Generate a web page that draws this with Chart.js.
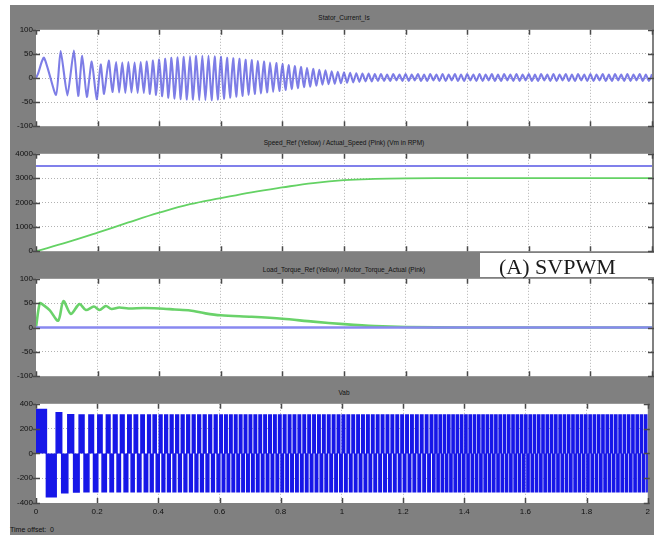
<!DOCTYPE html>
<html>
<head>
<meta charset="utf-8">
<script src="https://cdn.jsdelivr.net/npm/chart.js@4.4.1/dist/chart.umd.min.js"></script>
<style>
    html, body { margin: 0; padding: 0; background: #fff; }
    #page { position: relative; width: 654px; height: 535px; overflow: hidden; background: #fff; }
    #panel { position: absolute; left: 10px; top: 5px; right: 0; bottom: 0; background: #808080; }
    canvas { position: absolute; left: 0; }
    .title {
        position: absolute; left: 36px; width: 616px; text-align: center;
        font: 6.5px 'Liberation Sans', Arial, sans-serif; line-height: 8px; color: #111;
    }
    #tag { position: absolute; left: 480px; top: 253px; width: 174px; height: 24px; background: #fff; z-index: 5; }
    #tag span {
        position: absolute; left: 19px; top: 3px; white-space: nowrap;
        font: 22px 'Liberation Serif', 'Times New Roman', serif; line-height: 22px; color: #1a1a1a;
    }
    #offset { position: absolute; left: 10px; top: 526px; font: 7px 'Liberation Sans', Arial, sans-serif; line-height: 8px; color: #111; }
</style>
</head>
<body>
<div id="page">
    <div id="panel"></div>
    <div class="title" style="top:14px">Stator_Current_Is</div>
    <div class="title" style="top:139px">Speed_Ref (Yellow) / Actual_Speed (Pink) (Vm in RPM)</div>
    <div class="title" style="top:266px">Load_Torque_Ref (Yellow) / Motor_Torque_Actual (Pink)</div>
    <div class="title" style="top:389px">Vab</div>
    <canvas id="currentChart" width="654" height="112" style="top:22px"></canvas>
    <canvas id="speedChart" width="654" height="113" style="top:146px"></canvas>
    <canvas id="torqueChart" width="654" height="113" style="top:271px"></canvas>
    <canvas id="vabChart" width="654" height="123" style="top:396px"></canvas>
    <div id="tag"><span>(A) SVPWM</span></div>
    <div id="offset">Time offset:&nbsp;&nbsp;0</div>
</div>
<script>
// Shared time axis (s)
const TIME_TICKS = [0, 0.2, 0.4, 0.6, 0.8, 1, 1.2, 1.4, 1.6, 1.8, 2];
const TIME_LABELS = ['0', '0.2', '0.4', '0.6', '0.8', '1', '1.2', '1.4', '1.6', '1.8', '2'];

// Stator current Is (A): slow start-up swings, then a dense sampled part
const CURRENT_TICKS = [-100, -50, 0, 50, 100];
const CURRENT_EARLY_T = [0, 0.006, 0.026, 0.065, 0.080, 0.102, 0.123, 0.137, 0.150, 0.165, 0.181, 0.197, 0.210, 0.221, 0.236, 0.248];
const CURRENT_EARLY_A = [0, 8, 42, -35, 56, -36, 57, -37, 46, -39, 34, -44, 28, -33, 36, -29];
const CURRENT_DENSE_T0 = 0.26;
const CURRENT_DENSE_DT = 0.01;
const CURRENT_DENSE_A = [
    33, -30, 32, -31, 33, -30, 32, -31, 33, -31, 34, -33,
    36, -35, 38, -38, 40, -41, 42, -43, 43, -44,
    44, -45, 45, -45, 46, -46, 46, -46, 46, -46, 45, -45,
    44, -43, 42, -41, 41, -39, 40, -37, 38, -35,
    37, -33, 35, -32, 34, -30, 32, -29, 31, -27,
    29, -25, 27, -23, 25, -21, 23, -19, 21, -18,
    19, -16, 17, -14, 16, -13, 14, -12, 13, -11,
    12, -10, 11, -9, 10, -8, 9, -7, 9, -7,
    8, -6, 8, -6, 7, -6, 8, -5, 7, -6,
    8, -6, 7, -5, 8, -6, 7, -6, 8, -5,
    7, -6, 8, -6, 7, -5, 8, -6, 7, -6,
    8, -5, 7, -6, 8, -6, 7, -5, 8, -6,
    7, -6, 8, -5, 7, -6, 8, -6, 7, -5,
    8, -6, 7, -6, 8, -5, 7, -6, 8, -6,
    7, -5, 8, -6, 7, -6, 8, -5, 7, -6,
    8, -6, 7, -5, 8, -6, 7, -6, 8, -5,
    7, -6, 8, -6, 7, -5, 8, -6, 7, -6,
    8
];

// Speed (RPM)
const SPEED_TICKS = [0, 1000, 2000, 3000, 4000];
const SPEED_REF_RPM = 3500;
const SPEED_T = [0, 0.1, 0.2, 0.3, 0.4, 0.5, 0.6, 0.7, 0.8, 0.9, 1.0, 1.1, 1.2, 1.4, 1.6, 1.8, 2.0];
const SPEED_RPM = [0, 360, 760, 1180, 1580, 1930, 2180, 2420, 2620, 2800, 2920, 2970, 2990, 3000, 3000, 3000, 3000];

// Torque (N.m)
const TORQUE_TICKS = [-100, -50, 0, 50, 100];
const TORQUE_REF = 0;
const TORQUE_T = [0, 0.012, 0.02, 0.045, 0.072, 0.089, 0.113, 0.141, 0.162, 0.188, 0.206, 0.227, 0.245, 0.27, 0.3, 0.35, 0.4, 0.45, 0.5, 0.55, 0.6, 0.7, 0.8, 0.9, 1.0, 1.1, 1.2, 1.4, 2.0];
const TORQUE_NM = [0, 50, 48, 35, 14, 54, 28, 48, 36, 43, 36, 44, 38, 41, 39, 40, 39, 37, 35, 29, 25, 22, 18, 12, 7, 3, 1, 0, 0];

// Line voltage Vab (V): times where the pulse group flips sign (first one positive)
const VAB_TICKS = [-400, -200, 0, 200, 400];
const VAB_EARLY_LEVELS = [355, -350, 328, -318, 312, -312];
const VAB_POS = 310;
const VAB_NEG = -310;
const VAB_EDGES = [
    0.000, 0.034, 0.066, 0.084, 0.104, 0.123, 0.141, 0.157, 0.173, 0.188,
    0.202, 0.216, 0.230, 0.242, 0.253, 0.265, 0.276, 0.288, 0.300, 0.311,
    0.321, 0.332, 0.343, 0.354, 0.365, 0.374, 0.383, 0.393, 0.403, 0.412,
    0.421, 0.430,
    0.439, 0.448, 0.457, 0.466, 0.475, 0.484, 0.493, 0.502, 0.511, 0.520,
    0.529, 0.538, 0.547, 0.556, 0.565, 0.574, 0.583, 0.592, 0.601, 0.609,
    0.617, 0.625, 0.633, 0.641, 0.649, 0.657, 0.665, 0.673, 0.681, 0.689,
    0.697, 0.705, 0.713, 0.721, 0.729, 0.737, 0.745, 0.753, 0.761, 0.769,
    0.777, 0.785, 0.793, 0.801, 0.809, 0.817, 0.825, 0.833, 0.841, 0.849,
    0.857, 0.865, 0.873, 0.881, 0.889, 0.897, 0.905, 0.913, 0.921, 0.929,
    0.937, 0.945, 0.953, 0.961, 0.969, 0.977, 0.985, 0.993, 1.001, 1.009,
    1.017, 1.025, 1.033, 1.041, 1.049, 1.057, 1.065, 1.073, 1.081, 1.089,
    1.097, 1.105, 1.113, 1.121, 1.129, 1.137, 1.145, 1.153, 1.161, 1.169,
    1.177, 1.185, 1.193, 1.201, 1.209, 1.217, 1.225, 1.233, 1.241, 1.249,
    1.257, 1.265, 1.273, 1.281, 1.289, 1.297,
    1.304, 1.311, 1.318, 1.325, 1.332, 1.339, 1.346, 1.353, 1.360, 1.367,
    1.374, 1.381, 1.388, 1.395, 1.402, 1.409, 1.416, 1.423, 1.430, 1.437,
    1.444, 1.451, 1.458, 1.465, 1.472, 1.479, 1.486, 1.493, 1.500, 1.507,
    1.514, 1.521, 1.528, 1.535, 1.542, 1.549, 1.556, 1.563, 1.570, 1.577,
    1.584, 1.591, 1.598, 1.605, 1.612, 1.619, 1.626, 1.633, 1.640, 1.647,
    1.654, 1.661, 1.668, 1.675, 1.682, 1.689, 1.696, 1.703, 1.710, 1.717,
    1.724, 1.731, 1.738, 1.745, 1.752, 1.759, 1.766, 1.773, 1.780, 1.787,
    1.794, 1.801, 1.808, 1.815, 1.822, 1.829, 1.836, 1.843, 1.850, 1.857,
    1.864, 1.871, 1.878, 1.885, 1.892, 1.899, 1.906, 1.913, 1.920, 1.927,
    1.934, 1.941, 1.948, 1.955, 1.962, 1.969, 1.976, 1.983, 1.990, 1.997
];

const FONT = "'Liberation Sans', Arial, sans-serif";

// White plot area + small inward tick marks like the scope window
const scopeFrame = {
    id: 'scopeFrame',
    beforeDraw(chart) {
        const a = chart.chartArea;
        const ctx = chart.ctx;
        ctx.save();
        ctx.fillStyle = '#ffffff';
        ctx.fillRect(a.left, a.top, a.right - a.left, a.bottom - a.top);
        ctx.restore();
    },
    afterDraw(chart) {
        const { ctx, chartArea: a, scales: { x, y } } = chart;
        ctx.save();
        ctx.strokeStyle = '#4a4a4a';
        ctx.lineWidth = 1.5;
        ctx.beginPath();
        x.ticks.forEach(t => {
            const px = Math.round(x.getPixelForValue(t.value)) + 0.5;
            ctx.moveTo(px, a.top); ctx.lineTo(px, a.top + 5);
            ctx.moveTo(px, a.bottom); ctx.lineTo(px, a.bottom - 5);
        });
        y.ticks.forEach(t => {
            const py = Math.round(y.getPixelForValue(t.value)) + 0.5;
            ctx.moveTo(a.left - 3, py); ctx.lineTo(a.left + 4, py);
            ctx.moveTo(a.right - 4, py); ctx.lineTo(a.right + 2, py);
        });
        ctx.stroke();
        ctx.restore();
    }
};

function xy(ts, vs) {
    return ts.map((t, i) => ({ x: t, y: vs[i] }));
}

function flat(value) {
    return [{ x: TIME_TICKS[0], y: value }, { x: TIME_TICKS[TIME_TICKS.length - 1], y: value }];
}

function hideEdges(lo, hi) {
    return c => (c.tick && (c.tick.value === lo || c.tick.value === hi)) ? 'rgba(0,0,0,0)' : '#b2b2b2';
}

function makeScope(id, yTicks, datasets, withTimeAxis) {
    const yLo = yTicks[0];
    const yHi = yTicks[yTicks.length - 1];
    return new Chart(document.getElementById(id), {
        type: 'line',
        data: { datasets: datasets },
        options: {
            responsive: false,
            animation: false,
            devicePixelRatio: 1,
            events: [],
            parsing: false,
            layout: { padding: { top: 6, right: 2, bottom: withTimeAxis ? 0 : 6, left: 0 } },
            plugins: {
                legend: { display: false },
                tooltip: { enabled: false },
            },
            elements: { point: { radius: 0 } },
            scales: {
                x: {
                    type: 'linear',
                    min: TIME_TICKS[0],
                    max: TIME_TICKS[TIME_TICKS.length - 1],
                    afterBuildTicks: s => { s.ticks = TIME_TICKS.map(v => ({ value: v })); },
                    afterFit: s => { s.height = withTimeAxis ? 16 : 0; },
                    grid: { color: hideEdges(TIME_TICKS[0], TIME_TICKS[TIME_TICKS.length - 1]), lineWidth: 1, drawTicks: false },
                    border: { display: false, dash: [1, 2] },
                    ticks: {
                        display: withTimeAxis,
                        autoSkip: false,
                        maxRotation: 0,
                        padding: 4,
                        color: '#111',
                        font: { family: FONT, size: 8 },
                        callback: (v, i) => TIME_LABELS[i],
                    }
                },
                y: {
                    min: yLo,
                    max: yHi,
                    afterBuildTicks: s => { s.ticks = yTicks.map(v => ({ value: v })); },
                    afterFit: s => { s.width = 36; },
                    grid: { color: hideEdges(yLo, yHi), lineWidth: 1, drawTicks: false },
                    border: { display: false, dash: [1, 2] },
                    ticks: {
                        autoSkip: false,
                        padding: 3,
                        color: '#111',
                        font: { family: FONT, size: 8 },
                        callback: (v, i) => String(yTicks[i]),
                    }
                }
            }
        },
        plugins: [scopeFrame]
    });
}

// Build series
const currentPts = xy(CURRENT_EARLY_T, CURRENT_EARLY_A).concat(
    CURRENT_DENSE_A.map((a, i) => ({ x: +(CURRENT_DENSE_T0 + i * CURRENT_DENSE_DT).toFixed(3), y: a }))
);

const vabPts = VAB_EDGES.map((t, i) => ({
    x: t,
    y: i < VAB_EARLY_LEVELS.length ? VAB_EARLY_LEVELS[i] : (i % 2 ? VAB_NEG : VAB_POS)
}));
vabPts.push({ x: TIME_TICKS[TIME_TICKS.length - 1], y: 0 });

makeScope('currentChart', CURRENT_TICKS, [{
    data: currentPts,
    borderColor: 'rgba(75, 75, 220, 0.72)',
    borderWidth: 2.1,
    tension: 0.2,
}], false);

makeScope('speedChart', SPEED_TICKS, [{
    data: flat(SPEED_REF_RPM),
    borderColor: 'rgb(128, 128, 235)',
    borderWidth: 1.8,
}, {
    data: xy(SPEED_T, SPEED_RPM),
    borderColor: 'rgb(100, 210, 100)',
    borderWidth: 1.8,
    tension: 0.4,
}], false);

makeScope('torqueChart', TORQUE_TICKS, [{
    data: flat(TORQUE_REF),
    borderColor: 'rgb(136, 136, 240)',
    borderWidth: 2.4,
}, {
    data: xy(TORQUE_T, TORQUE_NM),
    borderColor: 'rgba(90, 205, 90, 0.9)',
    borderWidth: 2.6,
    tension: 0.3,
}], false);

makeScope('vabChart', VAB_TICKS, [{
    data: vabPts,
    borderColor: '#1717e8',
    backgroundColor: '#1717e8',
    borderWidth: 1.5,
    stepped: true,
    fill: 'origin',
}], true);
</script>
</body>
</html>
